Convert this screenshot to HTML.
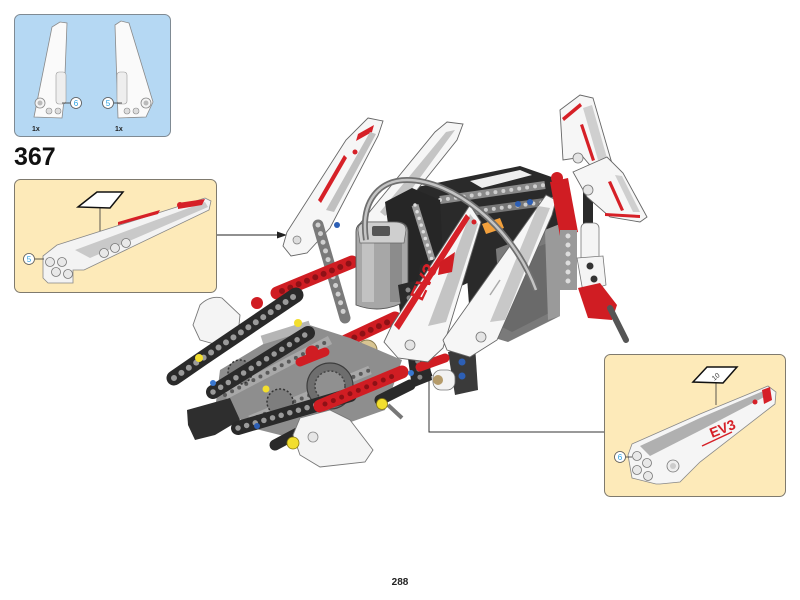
<!DOCTYPE html>
<html><head><meta charset="utf-8"><style>
html,body{margin:0;padding:0;background:#fff;}
svg{display:block;}
text{font-family:"Liberation Sans",sans-serif;}
</style></head><body>
<svg width="800" height="600" viewBox="0 0 800 600" xmlns="http://www.w3.org/2000/svg">
<!-- Parts box -->
<rect x="14.5" y="14.5" width="156" height="122" rx="6" fill="#b5d8f3" stroke="#7f8a93" stroke-width="1"/>
<polygon points="34,117 52,27 60,22 67,23 64,100 62,118" fill="#fafafa" stroke="#8a8a8a" stroke-width="0.8"/>
<rect x="56" y="72" width="10" height="32" rx="3" fill="#eee" stroke="#999" stroke-width="0.6"/>
<circle cx="40" cy="103" r="5" fill="#f4f4f4" stroke="#888" stroke-width="0.8"/>
<circle cx="40" cy="103" r="2.5" fill="#bbb"/>
<circle cx="49" cy="111" r="3" fill="#ddd" stroke="#888" stroke-width="0.6"/>
<circle cx="58" cy="111" r="3" fill="#ddd" stroke="#888" stroke-width="0.6"/>
<line x1="62" y1="103" x2="70" y2="103" stroke="#333" stroke-width="0.8"/>
<circle cx="76" cy="103" r="5.5" fill="#fff" stroke="#555" stroke-width="0.8"/>
<text x="76" y="106" font-size="8" fill="#2aa0e0" text-anchor="middle">6</text>
<polygon points="118,118 115,25 121,21 129,23 153,102 146,117" fill="#fafafa" stroke="#8a8a8a" stroke-width="0.8"/>
<rect x="117" y="72" width="10" height="32" rx="3" fill="#eee" stroke="#999" stroke-width="0.6"/>
<circle cx="146" cy="103" r="5" fill="#f4f4f4" stroke="#888" stroke-width="0.8"/>
<circle cx="146" cy="103" r="2.5" fill="#bbb"/>
<circle cx="127" cy="111" r="3" fill="#ddd" stroke="#888" stroke-width="0.6"/>
<circle cx="136" cy="111" r="3" fill="#ddd" stroke="#888" stroke-width="0.6"/>
<line x1="114" y1="103" x2="122" y2="103" stroke="#333" stroke-width="0.8"/>
<circle cx="108" cy="103" r="5.5" fill="#fff" stroke="#555" stroke-width="0.8"/>
<text x="108" y="106" font-size="8" fill="#2aa0e0" text-anchor="middle">5</text>
<text x="32" y="131" font-size="7" font-weight="bold" fill="#222">1x</text>
<text x="115" y="131" font-size="7" font-weight="bold" fill="#222">1x</text>

<text x="14" y="165" font-size="25" font-weight="bold" fill="#111">367</text>

<!-- left callout -->
<rect x="14.5" y="179.5" width="202" height="113" rx="6" fill="#fdeab9" stroke="#7f7a6e" stroke-width="1"/>
<polygon points="57,245 205,198 211,201 209,210 84,270 73,270 73,283 48,283 43,278 43,256" fill="#f3f3f3" stroke="#888" stroke-width="0.8"/>
<polygon points="75,250 205,202 208,207 90,258" fill="#c9c9c9"/>
<polygon points="118,222 160,210 158,214 118,225" fill="#d62027"/>
<polygon points="178,203 205,199 202,205 178,209" fill="#d62027"/>
<circle cx="180" cy="205" r="3" fill="#d62027"/>
<circle cx="50" cy="262" r="4.5" fill="#e8e8e8" stroke="#777" stroke-width="0.8"/>
<circle cx="62" cy="262" r="4.5" fill="#e8e8e8" stroke="#777" stroke-width="0.8"/>
<circle cx="56" cy="272" r="4.5" fill="#e8e8e8" stroke="#777" stroke-width="0.8"/>
<circle cx="68" cy="274" r="4.5" fill="#e8e8e8" stroke="#777" stroke-width="0.8"/>
<circle cx="104" cy="253" r="4.5" fill="#e8e8e8" stroke="#777" stroke-width="0.8"/>
<circle cx="115" cy="248" r="4.5" fill="#e8e8e8" stroke="#777" stroke-width="0.8"/>
<circle cx="126" cy="243" r="4.5" fill="#e8e8e8" stroke="#777" stroke-width="0.8"/>
<line x1="100" y1="207" x2="100" y2="231" stroke="#333" stroke-width="0.8"/>
<polygon points="78,207 97,192 123,192 110,208" fill="#fff" stroke="#111" stroke-width="1.5"/>
<line x1="35" y1="259" x2="44" y2="259" stroke="#333" stroke-width="0.8"/>
<circle cx="29" cy="259" r="5.5" fill="#fff" stroke="#555" stroke-width="0.8"/>
<text x="29" y="262" font-size="8" fill="#2aa0e0" text-anchor="middle">5</text>

<line x1="217" y1="235" x2="278" y2="235" stroke="#222" stroke-width="1"/>
<polygon points="277,231.5 287,235 277,238.5" fill="#222"/>

<!-- right callout -->
<rect x="604.5" y="354.5" width="181" height="142" rx="6" fill="#fdeab9" stroke="#7f7a6e" stroke-width="1"/>
<polyline points="604,432 429,432 429,375" fill="none" stroke="#333" stroke-width="1"/>
<polygon points="425.5,376 429,366 432.5,376" fill="#222"/>
<polygon points="632,444 700,414 768,386 776,392 775,404 700,462 680,482 660,484 656,484 632,478 628,455" fill="#f5f5f5" stroke="#888" stroke-width="0.8"/>
<polygon points="640,446 700,418 768,389 768,395 705,428 650,456" fill="#b0b0b0"/>
<polygon points="762,390 770,387 772,400 764,404" fill="#d62027"/>
<text x="712" y="438" font-size="14" font-weight="bold" fill="#d62027" transform="rotate(-22 712 438)">EV3</text>
<line x1="702" y1="446" x2="732" y2="432" stroke="#d62027" stroke-width="1.5"/>
<circle cx="755" cy="402" r="2.5" fill="#d62027"/>
<circle cx="637" cy="456" r="4.5" fill="#e8e8e8" stroke="#777" stroke-width="0.8"/>
<circle cx="647" cy="463" r="4.5" fill="#e8e8e8" stroke="#777" stroke-width="0.8"/>
<circle cx="637" cy="470" r="4.5" fill="#e8e8e8" stroke="#777" stroke-width="0.8"/>
<circle cx="648" cy="476" r="4.5" fill="#e8e8e8" stroke="#777" stroke-width="0.8"/>
<circle cx="673" cy="466" r="6" fill="#eee" stroke="#777" stroke-width="0.8"/>
<circle cx="673" cy="466" r="3" fill="#ccc"/>
<line x1="716" y1="383" x2="716" y2="405" stroke="#333" stroke-width="0.8"/>
<polygon points="693,382 707,367 737,367 723,383" fill="#fff" stroke="#111" stroke-width="1.5"/>
<text x="716" y="379" font-size="7" fill="#333" text-anchor="middle" transform="rotate(-40 716 377)">10</text>
<line x1="626" y1="457" x2="632" y2="457" stroke="#333" stroke-width="0.8"/>
<circle cx="620" cy="457" r="5.5" fill="#fff" stroke="#555" stroke-width="0.8"/>
<text x="620" y="460" font-size="8" fill="#2aa0e0" text-anchor="middle">6</text>

<!-- ===== MAIN MODEL ===== -->
<polygon points="412,188 520,166 566,182 564,236 520,258 432,300 410,262" fill="#2a2a2a"/>
<polygon points="470,181 520,170 532,175 482,188" fill="#eeeeee"/>
<line x1="440" y1="200" x2="545" y2="185" stroke="#8a8a8a" stroke-width="8"/>
<line x1="440" y1="200" x2="545" y2="185" stroke="#cfcfcf" stroke-width="4" stroke-dasharray="0 8" stroke-linecap="round"/>
<line x1="470" y1="212" x2="560" y2="200" stroke="#777" stroke-width="8"/>
<line x1="470" y1="212" x2="560" y2="200" stroke="#ccc" stroke-width="4" stroke-dasharray="0 8" stroke-linecap="round"/>
<circle cx="518" cy="204" r="3" fill="#2d5fb5"/><circle cx="530" cy="202" r="3" fill="#2d5fb5"/>
<polygon points="488,252 560,224 560,316 508,342 488,336" fill="#7a7a7a"/>
<polygon points="500,262 555,240 555,310 512,332 500,326" fill="#6a6a6a"/>
<polygon points="545,230 560,224 560,316 548,320" fill="#9a9a9a"/>
<polygon points="482,224 500,218 504,228 486,234" fill="#f2a03c"/>
<!-- left fins -->
<polygon points="447,122 463,124 457,140 405,205 378,232 362,238 358,226 435,132" fill="#f6f6f6" stroke="#666" stroke-width="0.9"/>
<polygon points="446,132 455,130 400,205 385,216 380,212" fill="#c4c4c4"/>
<polygon points="368,118 383,121 378,136 330,228 307,253 291,256 283,246 287,232 346,140" fill="#f6f6f6" stroke="#666" stroke-width="0.9"/>
<polygon points="358,134 374,125 372,132 356,141" fill="#d62027"/>
<polygon points="318,200 344,155 347,158 321,203" fill="#d62027"/>
<polygon points="326,210 370,132 376,134 334,212" fill="#c0c0c0"/>
<circle cx="355" cy="152" r="2.5" fill="#d62027"/>
<circle cx="297" cy="240" r="4" fill="#ddd" stroke="#777" stroke-width="0.7"/>
<line x1="318" y1="225" x2="345" y2="318" stroke="#7a7a7a" stroke-width="11" stroke-linecap="round"/>
<line x1="318" y1="225" x2="345" y2="318" stroke="#cfcfcf" stroke-width="5" stroke-dasharray="0 9" stroke-linecap="round"/>
<circle cx="337" cy="225" r="3" fill="#2d5fb5"/>
<polygon points="385,202 412,188 440,200 445,300 400,312" fill="#262626"/>
<line x1="415" y1="205" x2="432" y2="260" stroke="#9a9a9a" stroke-width="7"/>
<line x1="415" y1="205" x2="432" y2="260" stroke="#ddd" stroke-width="3.5" stroke-dasharray="0 7" stroke-linecap="round"/>
<line x1="277" y1="293" x2="352" y2="262" stroke="#d01d23" stroke-width="13" stroke-linecap="round"/>
<line x1="282" y1="291" x2="350" y2="263" stroke="#8e1116" stroke-width="6" stroke-dasharray="0 9" stroke-linecap="round"/>
<!-- motor -->
<path d="M356,232 Q356,222 368,222 L396,222 Q408,222 408,232 L408,300 Q382,315 356,305 Z" fill="#a7a7a7" stroke="#555" stroke-width="0.9"/>
<rect x="362" y="240" width="12" height="62" fill="#c2c2c2"/>
<rect x="390" y="240" width="12" height="62" fill="#8c8c8c"/>
<path d="M358,230 Q358,222 370,222 L394,222 Q406,222 406,230 L404,243 L360,243 Z" fill="#cfcfcf" stroke="#666" stroke-width="0.7"/>
<rect x="372" y="226" width="18" height="10" rx="2" fill="#555"/>
<polygon points="398,285 418,280 432,380 412,388" fill="#2a2a2a"/>
<line x1="408" y1="290" x2="420" y2="378" stroke="#888" stroke-width="5" stroke-dasharray="0 8" stroke-linecap="round"/>
<line x1="333" y1="347" x2="395" y2="318" stroke="#d01d23" stroke-width="13" stroke-linecap="round"/>
<line x1="338" y1="345" x2="390" y2="321" stroke="#8e1116" stroke-width="6" stroke-dasharray="0 9" stroke-linecap="round"/>
<circle cx="367" cy="350" r="10" fill="#d8c592" stroke="#8a7a50" stroke-width="1"/>
<circle cx="367" cy="350" r="4" fill="#b09a60"/>

<!-- lower left mechanism -->
<path d="M200,305 Q210,295 222,298 L240,315 L238,335 L218,345 L200,340 L193,325 Z" fill="#f4f4f4" stroke="#777" stroke-width="0.9"/>
<polygon points="220,370 300,322 350,338 402,360 385,410 300,440 252,428 216,402" fill="#8e8e8e"/>
<line x1="225" y1="395" x2="330" y2="340" stroke="#a8a8a8" stroke-width="9"/>
<line x1="225" y1="395" x2="330" y2="340" stroke="#5a5a5a" stroke-width="4" stroke-dasharray="0 8" stroke-linecap="round"/>
<line x1="250" y1="420" x2="370" y2="370" stroke="#a8a8a8" stroke-width="9"/>
<line x1="250" y1="420" x2="370" y2="370" stroke="#5a5a5a" stroke-width="4" stroke-dasharray="0 8" stroke-linecap="round"/>
<circle cx="330" cy="386" r="23" fill="#6e6e6e" stroke="#3d3d3d" stroke-width="1.2"/>
<circle cx="330" cy="386" r="15" fill="#909090" stroke="#444" stroke-width="1.5" stroke-dasharray="2 2"/>
<circle cx="240" cy="372" r="12" fill="#7a7a7a" stroke="#333" stroke-width="1.5" stroke-dasharray="2 2"/>
<circle cx="280" cy="402" r="13" fill="#7e7e7e" stroke="#333" stroke-width="1.5" stroke-dasharray="2 2"/>
<line x1="262" y1="340" x2="310" y2="325" stroke="#b5b5b5" stroke-width="9"/>
<polyline points="174,378 203,358 296,295" fill="none" stroke="#2a2a2a" stroke-width="15" stroke-linecap="round" stroke-linejoin="round"/>
<polyline points="174,378 203,358 296,295" fill="none" stroke="#9a9a9a" stroke-width="6" stroke-dasharray="0 9" stroke-linecap="round"/>
<line x1="213" y1="392" x2="308" y2="333" stroke="#2a2a2a" stroke-width="14" stroke-linecap="round"/>
<line x1="213" y1="392" x2="308" y2="333" stroke="#9a9a9a" stroke-width="5.5" stroke-dasharray="0 9" stroke-linecap="round"/>
<polygon points="187,410 230,398 240,420 215,435 195,440 188,425" fill="#2e2e2e"/>
<line x1="238" y1="428" x2="350" y2="395" stroke="#2a2a2a" stroke-width="14" stroke-linecap="round"/>
<line x1="238" y1="428" x2="350" y2="395" stroke="#9a9a9a" stroke-width="5.5" stroke-dasharray="0 9" stroke-linecap="round"/>
<line x1="275" y1="445" x2="322" y2="420" stroke="#2a2a2a" stroke-width="11" stroke-linecap="round"/>
<line x1="320" y1="406" x2="402" y2="372" stroke="#d01d23" stroke-width="13" stroke-linecap="round"/>
<line x1="325" y1="404" x2="398" y2="374" stroke="#8e1116" stroke-width="5" stroke-dasharray="0 9" stroke-linecap="round"/>
<line x1="300" y1="362" x2="325" y2="352" stroke="#d01d23" stroke-width="9" stroke-linecap="round"/>
<line x1="380" y1="400" x2="410" y2="385" stroke="#2a2a2a" stroke-width="11" stroke-linecap="round"/>
<line x1="388" y1="405" x2="402" y2="418" stroke="#777" stroke-width="4"/>
<polygon points="300,418 330,410 350,420 373,450 365,462 320,467 300,455 293,435" fill="#f4f4f4" stroke="#777" stroke-width="0.9"/>
<circle cx="313" cy="437" r="5" fill="#e6e6e6" stroke="#888" stroke-width="0.8"/>
<circle cx="257" cy="303" r="6" fill="#d01d23"/>
<circle cx="312" cy="352" r="6.5" fill="#d01d23"/>
<circle cx="293" cy="443" r="6" fill="#f2de2e" stroke="#8a7a10" stroke-width="0.8"/>
<circle cx="382" cy="404" r="5.5" fill="#f2de2e" stroke="#8a7a10" stroke-width="0.8"/>
<circle cx="199" cy="358" r="4" fill="#f2de2e"/>
<circle cx="298" cy="323" r="4" fill="#f2de2e"/>
<circle cx="266" cy="389" r="3.5" fill="#f2de2e"/>
<circle cx="213" cy="383" r="3" fill="#3a78d0"/>
<circle cx="257" cy="426" r="3" fill="#2d5fb5"/>
<circle cx="411" cy="373" r="3" fill="#3a78d0"/>

<polygon points="448,352 475,345 478,390 455,395" fill="#3a3a3a"/>
<circle cx="462" cy="362" r="3.5" fill="#2d5fb5"/>
<circle cx="462" cy="376" r="3.5" fill="#2d5fb5"/>
<rect x="433" y="370" width="22" height="20" rx="8" fill="#f2f2f2" stroke="#777" stroke-width="0.8"/>
<circle cx="438" cy="380" r="5" fill="#b59b6a"/>
<line x1="420" y1="367" x2="445" y2="358" stroke="#d01d23" stroke-width="9" stroke-linecap="round"/>

<polygon points="465,250 495,238 500,300 470,318" fill="#2a2a2a"/>
<polygon points="420,265 445,255 442,318 412,330" fill="#2a2a2a"/>
<!-- EV3 fin -->
<polygon points="470,205 481,222 443,348 428,362 398,358 384,342 392,325" fill="#f6f6f6" stroke="#666" stroke-width="0.9"/>
<polygon points="470,214 478,224 446,322 428,326" fill="#c4c4c4"/>
<polygon points="394,325 466,214 470,218 399,330" fill="#d62027"/>
<text x="422" y="302" font-size="20" font-weight="bold" fill="#d62027" transform="rotate(-65 422 302)">EV3</text>
<circle cx="474" cy="222" r="2.5" fill="#d62027"/>
<circle cx="410" cy="345" r="5" fill="#e4e4e4" stroke="#777" stroke-width="0.8"/>
<polygon points="440,262 455,252 452,272 438,275" fill="#d01d23"/>
<!-- right fin -->
<polygon points="546,195 556,200 552,215 497,340 470,357 447,350 443,340" fill="#f6f6f6" stroke="#666" stroke-width="0.9"/>
<polygon points="538,206 550,208 505,320 490,322" fill="#c8c8c8"/>
<circle cx="481" cy="337" r="5" fill="#e4e4e4" stroke="#777" stroke-width="0.8"/>
<line x1="490" y1="295" x2="500" y2="280" stroke="#aaa" stroke-width="1.5"/>
<!-- cable -->
<path d="M366,240 C360,200 380,180 407,180 C452,180 512,225 536,290" fill="none" stroke="#6f6f6f" stroke-width="6"/>
<path d="M366,240 C360,200 380,180 407,180 C452,180 512,225 536,290" fill="none" stroke="#c4c4c4" stroke-width="2.5"/>

<!-- right leg -->
<polygon points="550,182 568,178 578,232 560,236" fill="#d01d23"/>
<circle cx="557" cy="178" r="6" fill="#d01d23"/>
<rect x="583" y="180" width="10" height="44" fill="#2a2a2a"/>
<rect x="560" y="230" width="17" height="60" fill="#9a9a9a"/>
<line x1="568" y1="236" x2="568" y2="286" stroke="#ddd" stroke-width="5" stroke-dasharray="0 9" stroke-linecap="round"/>
<rect x="581" y="223" width="18" height="52" rx="5" fill="#f4f4f4" stroke="#777" stroke-width="0.8"/>
<polygon points="577,258 603,256 606,285 583,292" fill="#f4f4f4" stroke="#777" stroke-width="0.8"/>
<circle cx="590" cy="266" r="3.5" fill="#333"/><circle cx="594" cy="279" r="3.5" fill="#333"/>
<polygon points="578,288 600,283 617,305 612,320 588,318" fill="#d01d23"/>
<line x1="610" y1="308" x2="626" y2="340" stroke="#555" stroke-width="6" stroke-linecap="round"/>
<!-- right wings -->
<polygon points="560,110 580,95 593,98 613,167 600,177 583,157 563,160" fill="#f6f6f6" stroke="#666" stroke-width="0.9"/>
<polygon points="583,108 592,105 607,158 598,160" fill="#cfcfcf"/>
<polygon points="562,118 580,103 582,106 564,121" fill="#d62027"/>
<polygon points="580,125 583,124 595,160 592,161" fill="#d62027"/>
<polygon points="573,172 607,157 623,173 647,217 640,222 610,217 587,197" fill="#f6f6f6" stroke="#666" stroke-width="0.9"/>
<polygon points="615,175 622,176 640,212 633,212" fill="#cfcfcf"/>
<polygon points="608,182 611,181 624,210 621,211" fill="#d62027"/>
<polygon points="605,213 640,215 640,218 605,216" fill="#d62027"/>
<circle cx="578" cy="158" r="5" fill="#e4e4e4" stroke="#777" stroke-width="0.8"/>
<circle cx="588" cy="190" r="5" fill="#e4e4e4" stroke="#777" stroke-width="0.8"/>

<text x="400" y="585" font-size="10" font-weight="bold" fill="#222" text-anchor="middle">288</text>
</svg>
</body></html>
